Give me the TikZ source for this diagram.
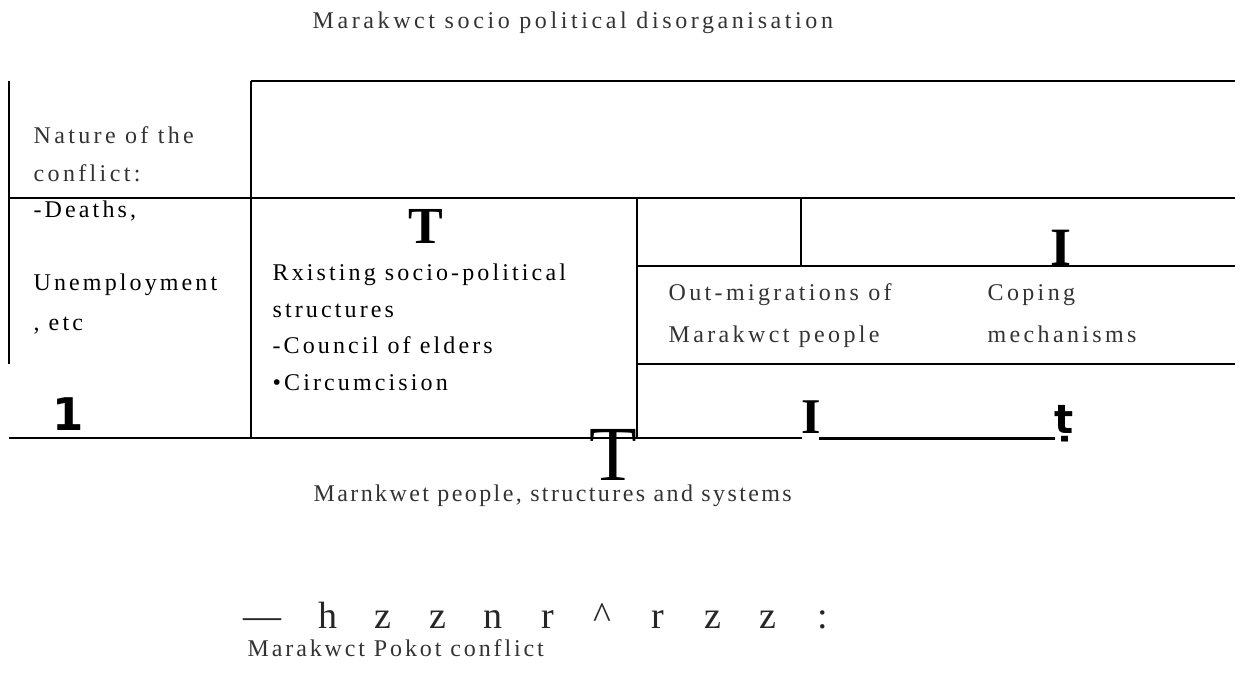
\documentclass[tikz,border=0pt]{standalone}
\usepackage{fontspec}
\setmainfont{Liberation Serif}
\newfontfamily\bt[LetterSpace=14]{Liberation Serif}
\newfontfamily\btt[LetterSpace=15]{Liberation Serif}
\newfontfamily\btn[LetterSpace=10]{Liberation Serif}
\newfontfamily\btc[LetterSpace=12]{Liberation Serif}
\newfontfamily\btd[LetterSpace=13]{Liberation Serif}
\newfontfamily\bsans{DejaVu Sans}
\newcommand\gl[1]{\makebox[55pt][c]{#1}}
\begin{document}
\begin{tikzpicture}[x=1pt,y=-1pt,line width=1.3pt,
  thin/.style={anchor=base west,inner sep=0pt,text=black!80,font=\bt\fontsize{24}{28}\selectfont},
  dark/.style={anchor=base west,inner sep=0pt,text=black,font=\btd\fontsize{24}{28}\selectfont},
  bigbold/.style={anchor=base,inner sep=0pt,font=\bfseries\fontsize{#1}{#1}\selectfont}]
\useasboundingbox (0,0) rectangle (1241,675);
% table lines
\draw (9,81) -- (9,364);
\draw (251,81) -- (251,438);
\draw (251,81) -- (1235,81);
\draw (9,198) -- (1235,198);
\draw (637,198) -- (637,438);
\draw (801,198) -- (801,266);
\draw (637,266) -- (1235,266);
\draw (637,364) -- (1235,364);
\draw (9,438) -- (802,438);
\draw[line width=3pt] (819,438) -- (1055,438);
% texts
\node[thin,font=\btt\fontsize{24}{28}\selectfont] (title) at (312,28) {Marakwct socio political disorganisation};
\node[thin] (nat1) at (33,143) {Nature of the};
\node[thin] (nat2) at (33,181) {conflict:};
\node[dark] (d1) at (33,217) {-Deaths,};
\node[dark] (d2) at (33,290) {Unemployment};
\node[dark] (d3) at (33,330) {, etc};
\node[anchor=base west,inner sep=0pt,font=\bsans\bfseries\fontsize{45}{45}\selectfont] (one) at (52,430) {1};
\node[bigbold=52] (T1) at (426,243) {T};
\node[dark] (r1) at (272,280) {Rxisting socio-political};
\node[dark] (r2) at (272,317) {structures};
\node[dark] (r3) at (272,353) {-Council of elders};
\node[dark] (r4) at (272,390) {•Circumcision};
\node[thin] (o1) at (668,300) {Out-migrations of};
\node[thin] (o2) at (668,342) {Marakwct people};
\node[thin] (c1) at (987,300) {Coping};
\node[thin] (c2) at (987,342) {mechanisms};
\node[bigbold=54] (I1) at (1061,265) {I};
\node[bigbold=50] (I2) at (811,433) {I};
\node[anchor=base,inner sep=0pt,font=\bsans\bfseries\fontsize{40}{40}\selectfont] (t) at (1064,433) {ṭ};
\node[anchor=base,inner sep=0pt,font=\fontsize{78}{78}\selectfont] (T2) at (613,480) {T};
\node[thin,font=\btn\fontsize{24}{28}\selectfont] (mp) at (313,501) {Marnkwet people, structures and systems};
\node[anchor=base west,inner sep=0pt,text=black!85,font=\fontsize{38}{38}\selectfont] (row) at (224.5,628)
  {\makebox[75pt][c]{—}\gl{h}\gl{z}\gl{z}\gl{n}\gl{r}\gl{\textasciicircum}\gl{r}\gl{z}\gl{z}\gl{:}};
\node[thin,font=\btc\fontsize{24}{28}\selectfont] (mpc) at (247,656) {Marakwct Pokot conflict};
\end{tikzpicture}
\end{document}
